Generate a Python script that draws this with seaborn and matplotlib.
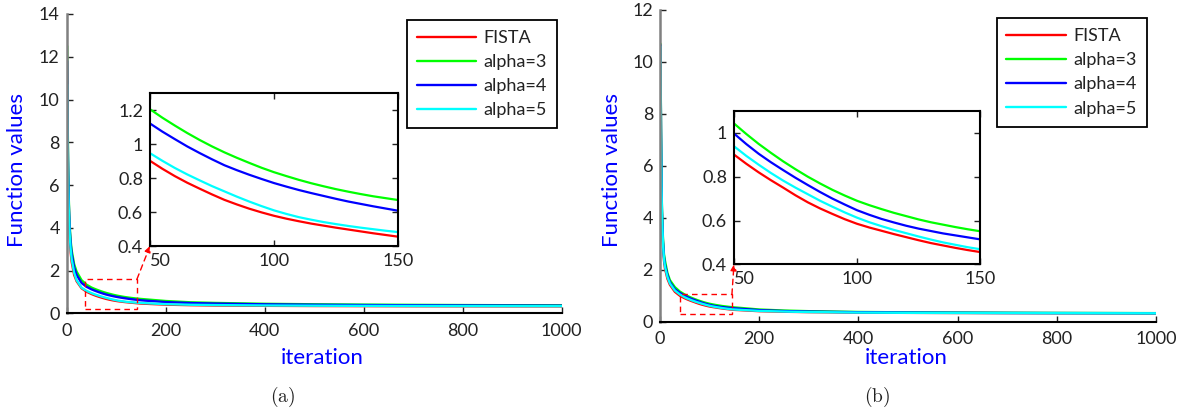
import numpy as np
import pandas as pd
import matplotlib
matplotlib.use("Agg")
import matplotlib.pyplot as plt
import seaborn as sns
from matplotlib.patches import Rectangle

# ---------------- data ----------------
iterations = [1, 2, 3, 4, 6, 8, 10, 15, 20, 30, 40,
              50, 55, 60, 65, 70, 75, 80, 85, 90, 95, 100, 105, 110, 115, 120, 125,
              130, 135, 140, 145, 150,
              200, 250, 300, 400, 500, 600, 700, 800, 900, 1000]
methods = ["FISTA", "alpha=3", "alpha=4", "alpha=5"]

# panel (a)
a_fista = [10.3, 7.6, 5.9, 4.8, 3.55, 2.85, 2.4, 1.8, 1.5, 1.17, 1.01,
           0.902, 0.855, 0.812, 0.773, 0.738, 0.704, 0.672, 0.645, 0.62, 0.598, 0.578,
           0.561, 0.546, 0.532, 0.52, 0.508, 0.497, 0.486, 0.475, 0.465, 0.455,
           0.405, 0.38, 0.365, 0.35, 0.34, 0.335, 0.33, 0.327, 0.324, 0.322]
a_alpha3 = [12.5, 9.0, 6.8, 5.5, 4.1, 3.4, 2.95, 2.3, 1.95, 1.55, 1.34,
            1.206, 1.156, 1.11, 1.066, 1.025, 0.987, 0.952, 0.92, 0.89, 0.861, 0.835,
            0.812, 0.79, 0.77, 0.752, 0.735, 0.72, 0.706, 0.693, 0.682, 0.671,
            0.575, 0.515, 0.485, 0.445, 0.422, 0.406, 0.395, 0.386, 0.378, 0.372]
a_alpha4 = [11.8, 8.5, 6.5, 5.3, 3.95, 3.25, 2.8, 2.15, 1.8, 1.42, 1.24,
            1.122, 1.074, 1.03, 0.987, 0.948, 0.911, 0.876, 0.847, 0.82, 0.795, 0.771,
            0.75, 0.73, 0.712, 0.695, 0.678, 0.662, 0.648, 0.634, 0.621, 0.608,
            0.525, 0.48, 0.455, 0.42, 0.40, 0.386, 0.376, 0.368, 0.362, 0.357]
a_alpha5 = [10.7, 7.9, 6.1, 5.0, 3.7, 3.0, 2.55, 1.9, 1.55, 1.2, 1.05,
            0.947, 0.902, 0.86, 0.822, 0.787, 0.753, 0.722, 0.691, 0.662, 0.635, 0.61,
            0.589, 0.57, 0.555, 0.541, 0.529, 0.518, 0.508, 0.499, 0.49, 0.482,
            0.428, 0.40, 0.385, 0.365, 0.355, 0.348, 0.342, 0.338, 0.335, 0.332]

# panel (b)
b_fista = [10.5, 7.2, 5.1, 4.0, 2.9, 2.35, 2.05, 1.65, 1.42, 1.15, 1.0,
           0.901, 0.859, 0.82, 0.784, 0.75, 0.715, 0.683, 0.655, 0.63, 0.606, 0.585,
           0.568, 0.553, 0.538, 0.524, 0.51, 0.497, 0.486, 0.475, 0.465, 0.456,
           0.405, 0.383, 0.368, 0.35, 0.34, 0.334, 0.33, 0.327, 0.325, 0.323]
b_alpha3 = [10.7, 7.5, 5.4, 4.3, 3.2, 2.6, 2.35, 1.87, 1.6, 1.33, 1.16,
            1.043, 0.995, 0.95, 0.909, 0.87, 0.834, 0.80, 0.769, 0.74, 0.714, 0.69,
            0.67, 0.652, 0.635, 0.62, 0.605, 0.592, 0.581, 0.57, 0.56, 0.551,
            0.47, 0.43, 0.405, 0.375, 0.36, 0.35, 0.343, 0.338, 0.334, 0.33]
b_alpha4 = [10.65, 7.4, 5.3, 4.2, 3.1, 2.5, 2.2, 1.8, 1.52, 1.25, 1.11,
            0.997, 0.949, 0.905, 0.866, 0.83, 0.795, 0.762, 0.73, 0.70, 0.673, 0.647,
            0.626, 0.607, 0.591, 0.576, 0.563, 0.552, 0.541, 0.532, 0.523, 0.514,
            0.445, 0.41, 0.39, 0.365, 0.352, 0.343, 0.337, 0.333, 0.33, 0.327]
b_alpha5 = [10.6, 7.3, 5.2, 4.1, 3.0, 2.42, 2.12, 1.72, 1.47, 1.2, 1.05,
            0.939, 0.895, 0.855, 0.817, 0.782, 0.75, 0.72, 0.69, 0.663, 0.637, 0.613,
            0.592, 0.574, 0.557, 0.542, 0.527, 0.513, 0.5, 0.489, 0.478, 0.469,
            0.415, 0.39, 0.372, 0.352, 0.342, 0.336, 0.332, 0.329, 0.327, 0.325]

main_xticks = [0, 200, 400, 600, 800, 1000]
a_yticks = [0, 2, 4, 6, 8, 10, 12, 14]
b_yticks = [0, 2, 4, 6, 8, 10, 12]
inset_xticks = [50, 100, 150]
a_inset_yticks = [0.4, 0.6, 0.8, 1.0, 1.2]
b_inset_yticks = [0.4, 0.6, 0.8, 1.0]
a_inset_ytick_labels = ["0.4", "0.6", "0.8", "1", "1.2"]
b_inset_ytick_labels = ["0.4", "0.6", "0.8", "1"]

palette = {"FISTA": "#ff0000", "alpha=3": "#00ff00", "alpha=4": "#0000ff", "alpha=5": "#00ffff"}

# ---------------- style ----------------
sns.set_style("ticks")
plt.rcParams["font.family"] = ["Lato", "DejaVu Sans"]
plt.rcParams["mathtext.fontset"] = "cm"

W, H = 1184, 411
fig = plt.figure(figsize=(W / 100, H / 100), dpi=100)


def fx(px):
    return px / W


def fy(py):
    return 1 - py / H


def long_frame(series):
    return pd.DataFrame({
        "iteration": np.tile(iterations, len(methods)),
        "value": np.concatenate([np.asarray(s, dtype=float) for s in series]),
        "method": np.repeat(methods, len(iterations)),
    })


panels = [
    dict(series=[a_fista, a_alpha3, a_alpha4, a_alpha5],
         main=(66.7, 561.7, 14.0, 313.3), ymax=14, yticks=a_yticks,
         inset=(150, 398, 93.3, 246), inset_ylim=(0.4, 1.3),
         inset_yticks=a_inset_yticks, inset_ylabels=a_inset_ytick_labels,
         rect=(37, 0.2, 142, 1.6),
         legend_anchor=(556.7, 20),
         ylabel_xy=(17, 170), xlabel_xy=(322, 358), tag="(a)", tag_xy=(283, 397)),
    dict(series=[b_fista, b_alpha3, b_alpha4, b_alpha5],
         main=(660, 1156, 10.0, 321.7), ymax=12, yticks=b_yticks,
         inset=(734, 980, 111, 264.3), inset_ylim=(0.4, 1.1),
         inset_yticks=b_inset_yticks, inset_ylabels=b_inset_ytick_labels,
         rect=(40, 0.3, 145, 1.05),
         legend_anchor=(1146.6, 18.3),
         ylabel_xy=(612, 170), xlabel_xy=(906, 358), tag="(b)", tag_xy=(877, 397)),
]

for p in panels:
    df = long_frame(p["series"])
    x0, x1, ytop, ybot = p["main"]
    ax = fig.add_axes([fx(x0), fy(ybot), fx(x1) - fx(x0), fy(ytop) - fy(ybot)])
    sns.lineplot(data=df, x="iteration", y="value", hue="method", hue_order=methods,
                 palette=palette, estimator=None, errorbar=None, linewidth=1.7,
                 ax=ax, legend=True)
    ax.set_xlim(0, 1000)
    ax.set_ylim(0, p["ymax"])
    ax.set_xticks(main_xticks)
    ax.set_yticks(p["yticks"])
    for s in ("top", "right"):
        ax.spines[s].set_visible(False)
    ax.spines["bottom"].set_color("black")
    ax.spines["bottom"].set_linewidth(1.5)
    ax.spines["left"].set_color("#808080")
    ax.spines["left"].set_linewidth(1.8)
    ax.tick_params(axis="both", direction="in", length=4, width=1, labelsize=13,
                   colors="#222222")
    ax.tick_params(axis="x", pad=7)
    ax.tick_params(axis="y", pad=5)

    # axis labels
    ax.set_xlabel("iteration", color="#0000ff", fontsize=16, va="center")
    ax.set_ylabel("Function values", color="#0000ff", fontsize=16, va="center")
    ax.xaxis.set_label_coords((p["xlabel_xy"][0] - x0) / (x1 - x0),
                              (ybot - p["xlabel_xy"][1]) / (ybot - ytop))
    ax.yaxis.set_label_coords((p["ylabel_xy"][0] - x0) / (x1 - x0),
                              (ybot - p["ylabel_xy"][1]) / (ybot - ytop))

    # legend
    handles, labels = ax.get_legend_handles_labels()
    leg = ax.legend(handles, labels, loc="upper right",
                    bbox_to_anchor=(fx(p["legend_anchor"][0]), fy(p["legend_anchor"][1])),
                    bbox_transform=fig.transFigure, fontsize=13, frameon=True,
                    fancybox=False, edgecolor="black", framealpha=1,
                    handlelength=3.3, handletextpad=0.4, labelspacing=0.45,
                    borderpad=0.55, borderaxespad=0)
    leg.get_frame().set_linewidth(1.3)
    for t in leg.get_texts():
        t.set_color("#222222")

    # zoom rectangle
    rx0, ry0, rx1, ry1 = p["rect"]
    ax.add_patch(Rectangle((rx0, ry0), rx1 - rx0, ry1 - ry0, fill=False,
                           edgecolor="#ff0000", linewidth=1.0, linestyle=(0, (4, 3)),
                           zorder=5))

    # inset
    ix0, ix1, iytop, iybot = p["inset"]
    axi = fig.add_axes([fx(ix0), fy(iybot), fx(ix1) - fx(ix0), fy(iytop) - fy(iybot)])
    dfi = df[(df["iteration"] >= 50) & (df["iteration"] <= 150)]
    sns.lineplot(data=dfi, x="iteration", y="value", hue="method", hue_order=methods,
                 palette=palette, estimator=None, errorbar=None, linewidth=1.6,
                 ax=axi, legend=False)
    axi.set_xlim(50, 150)
    axi.set_ylim(*p["inset_ylim"])
    axi.set_xticks(inset_xticks)
    axi.set_yticks(p["inset_yticks"])
    axi.set_yticklabels(p["inset_ylabels"])
    axi.set_xlabel("")
    axi.set_ylabel("")
    for s in axi.spines.values():
        s.set_color("black")
        s.set_linewidth(1.5)
    axi.tick_params(axis="both", direction="in", length=4, width=1, labelsize=13,
                    colors="#222222", top=True, right=True)
    axi.tick_params(axis="x", pad=5)
    axi.tick_params(axis="y", pad=5)
    xt = axi.get_xticklabels()
    xt[0].set_ha("left")

    # dashed arrow from rectangle corner to inset corner
    ax.annotate("", xy=(0, 0), xycoords=axi, xytext=(rx1, ry1), textcoords="data",
                arrowprops=dict(arrowstyle="-|>", color="#ff0000", lw=1.0,
                                linestyle=(0, (4, 3)), shrinkA=0, shrinkB=0,
                                mutation_scale=9),
                annotation_clip=False, zorder=6)

    fig.text(fx(p["tag_xy"][0]), fy(p["tag_xy"][1]), r"$\mathrm{" + p["tag"] + "}$",
             ha="center", va="center", fontsize=14, color="#222222")

fig.savefig("out.png", dpi=100)
